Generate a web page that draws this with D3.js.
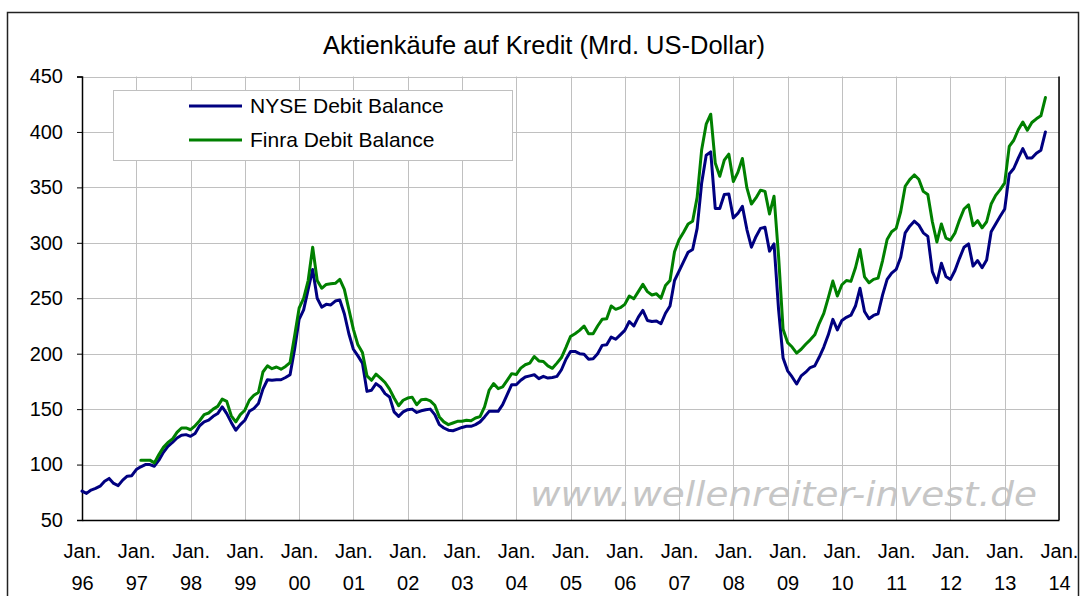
<!DOCTYPE html>
<html><head><meta charset="utf-8">
<script src="https://cdn.jsdelivr.net/npm/d3@7"></script>
<style>body{margin:0;background:#fff}svg{display:block}</style>
</head><body>
<script>
// ---- data (monthly, billion US$) ----
const title = "Aktienkäufe auf Kredit (Mrd. US-Dollar)";
const seriesNames = ["NYSE Debit Balance", "Finra Debit Balance"];
const yearLabels = ["96","97","98","99","00","01","02","03","04","05","06","07","08","09","10","11","12","13","14"];
const yTicks = [50,100,150,200,250,300,350,400,450];
const nyseStart = 0;   // Jan 1996 (month index)
const finraStart = 13; // Feb 1997
const nyse = [
 76,74,77,78.5,80.5,85,87.5,83,81,86,89.5,90,
 95.5,98,100,100,98.5,104,111,116.5,120,124,126.5,127,
 125.5,128,135,138.5,140,143.5,146,152,146,138,131,136,
 140,148,150.5,155,168,176.5,176,176.5,176.5,178.5,181,204,
 231,239.5,258,276,250,242,244.5,244,247.5,248.5,236,218,
 204,198,191.5,166,167,173,170,164,161,147.5,143.5,147.5,
 149.5,150,147,148.5,149.5,150,145,136,133,131,130.5,132,
 133.5,134.5,134.5,136,138.5,143,148,148,148,154,163,172,
 172,176,179,180,181,177.5,179.6,178,178.5,179.5,185.5,195,
 202,202,200,199.5,195,195.5,200,207.5,208,215,213,217,
 221,229,225,233,239,230,229,229.5,227,236.5,243,266,
 274.5,283,291.5,294,313,354,379,382,331,331,343.5,344,
 322.5,326.5,333,312,296,305.5,313,314,292.5,299,240,196,
 184.5,179,172.7,180,183.3,187.5,189,197,206,217,231,221.5,
 230,232.8,234.7,243,259,238,231.5,234.5,236,253,267,272.7,
 276,287,309,315,319.5,316,309,305.8,274,264,281.5,269.6,
 267,275,286,296,299,279,284,277.5,284.5,310,317,324,
 330.5,362,367,376.4,385,376.4,376.4,380.8,383.5,400
];
const finra = [
 104,104,104,101.5,109,115.5,120,123,129,133,133,
 131.4,135,139.5,145,146.5,150,152.5,159,157,144,138.5,145,
 149,158,162.5,165,183.5,189,186.5,188,186,188.5,192,216,
 241,250,266,296,266,259,262.5,263,263.5,267,258,240,
 222,208,201,180,176,181.5,178,174,168,160,153,158,
 160,160.8,154,158.5,159,157.5,153.5,143,138.5,136,137.5,139,
 139,140,139.5,142,143.2,152,167,173,168.5,170,176,182,
 181.2,187,190,191.5,197.5,193.5,193,189,186.8,191.5,196.5,205.7,
 215.5,218,221,225,218,218,225,231,231.5,243,240,241.5,
 244.5,252,249.5,256,262.5,256,253,254,250,261.5,266,292,
 302.7,309.5,317,319.4,341,384,407,416,372,360,374.5,380,
 355.3,363.5,376,349.5,335,340.5,347.5,346.4,326,342,288,222,
 210,206,200.5,204,208.5,212.5,217,227.4,236.3,250.5,265.5,252,
 262.2,266,265.2,277.5,294,269.3,264,267,268.2,284,303,310,
 313,328,351,357,361.2,357.3,346.4,343.5,319,300.7,317,304.2,
 302.4,308.8,320.5,330.5,334.3,315.5,320,313.5,319,335,342.8,348,
 354,387,392.5,402,409,401.5,408.5,411.8,414.5,431
];
const colors = ["#000080", "#008000"];

// ---- layout ----
const W = 1085, H = 596;
const L = 82, R = 1059, T = 76.5, B = 520;
const font = "'Liberation Sans', Arial, sans-serif";

const svg = d3.select("body").append("svg").attr("width", W).attr("height", H);
svg.append("rect").attr("width", W).attr("height", H).attr("fill", "#fff");
svg.append("rect").attr("x", 7.5).attr("y", 12.5).attr("width", 1071).attr("height", 620)
  .attr("fill", "none").attr("stroke", "#222").attr("stroke-width", 1.5);

const x = d3.scaleLinear().domain([0, (yearLabels.length - 1) * 12]).range([L, R]);
const y = d3.scaleLinear().domain([50, 450]).range([B, T]);

// watermark
svg.append("text").attr("x", 530).attr("y", 506)
  .attr("font-family", "'DejaVu Sans', Verdana, sans-serif").attr("font-style", "italic")
  .attr("font-size", 34).attr("fill", "#c6c6c6")
  .attr("textLength", 507).attr("lengthAdjust", "spacingAndGlyphs")
  .text("www.wellenreiter-invest.de");

// gridlines
const grid = svg.append("g").attr("stroke", "#c0c0c0").attr("stroke-width", 1);
yTicks.forEach(v => grid.append("line").attr("x1", L).attr("x2", R)
  .attr("y1", Math.round(y(v)) + 0.5).attr("y2", Math.round(y(v)) + 0.5));
yearLabels.forEach((s, i) => grid.append("line")
  .attr("x1", Math.round(x(i * 12)) + 0.5).attr("x2", Math.round(x(i * 12)) + 0.5)
  .attr("y1", T).attr("y2", B));

// axes
const yAxis = svg.append("g").attr("transform", `translate(${L},0)`)
  .call(d3.axisLeft(y).tickValues(yTicks).tickSize(5).tickPadding(14));
yAxis.select(".domain").attr("stroke", "#000").attr("stroke-width", 1.5);
yAxis.selectAll(".tick line").attr("stroke", "#000");
yAxis.selectAll("text").attr("font-family", font).attr("font-size", 20).attr("fill", "#000");

const xAxis = svg.append("g").attr("transform", `translate(0,${B})`)
  .call(d3.axisBottom(x).tickValues(yearLabels.map((s, i) => i * 12)).tickSize(0).tickFormat(""));
xAxis.select(".domain").attr("stroke", "#000").attr("stroke-width", 1.5);
xAxis.selectAll(".tick").each(function(d, i) {
  const g = d3.select(this);
  g.append("text").attr("y", 31).attr("dy", "0.35em").attr("text-anchor", "middle")
    .attr("font-family", font).attr("font-size", 20).attr("fill", "#000").text("Jan.");
  g.append("text").attr("y", 63).attr("dy", "0.35em").attr("text-anchor", "middle")
    .attr("font-family", font).attr("font-size", 20).attr("fill", "#000").text(yearLabels[i]);
});
svg.append("line").attr("x1", R).attr("x2", R).attr("y1", T).attr("y2", B)
  .attr("stroke", "#000").attr("stroke-width", 1.5);

// lines
const mk = start => d3.line().x((d, i) => x(start + i)).y(d => y(d));
svg.append("path").datum(nyse).attr("d", mk(nyseStart))
  .attr("fill", "none").attr("stroke", colors[0]).attr("stroke-width", 3)
  .attr("stroke-linejoin", "round").attr("stroke-linecap", "round");
svg.append("path").datum(finra).attr("d", mk(finraStart))
  .attr("fill", "none").attr("stroke", colors[1]).attr("stroke-width", 3)
  .attr("stroke-linejoin", "round").attr("stroke-linecap", "round");

// title
svg.append("text").attr("x", 544).attr("y", 54).attr("text-anchor", "middle")
  .attr("font-family", font).attr("font-size", 25.5).attr("fill", "#000").text(title);

// legend
const lg = svg.append("g");
lg.append("rect").attr("x", 113.5).attr("y", 90.5).attr("width", 399).attr("height", 70)
  .attr("fill", "#fff").attr("stroke", "#c0c0c0");
seriesNames.forEach((n, i) => {
  const yy = 106 + i * 34;
  lg.append("line").attr("x1", 189).attr("x2", 242).attr("y1", yy).attr("y2", yy)
    .attr("stroke", colors[i]).attr("stroke-width", 3);
  lg.append("text").attr("x", 250).attr("y", yy + 7).attr("font-family", font)
    .attr("font-size", 21).attr("fill", "#000").text(n);
});
</script>
</body></html>
